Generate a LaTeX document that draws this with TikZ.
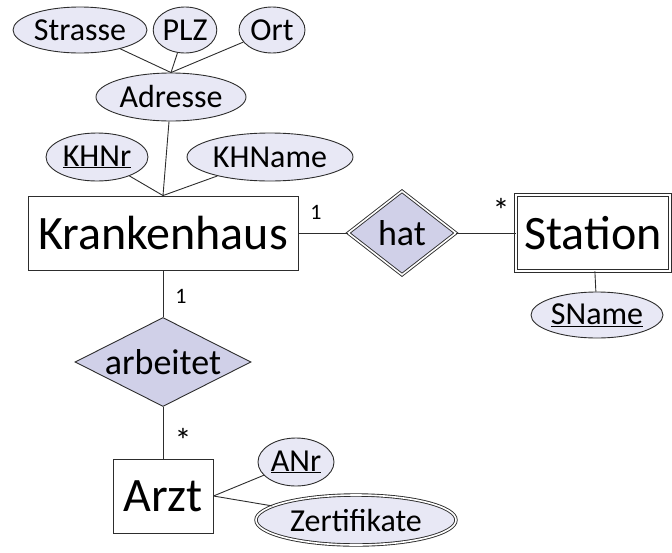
\documentclass[tikz,border=0pt]{standalone}
\usepackage{fontspec}
\setmainfont{Carlito}
\usetikzlibrary{shapes.geometric}
\definecolor{attrfill}{RGB}{232,232,245}
\definecolor{relfill}{RGB}{208,208,232}
\definecolor{linecol}{RGB}{45,45,45}

\tikzset{
  attr/.style={ellipse,draw=linecol,fill=attrfill,line width=0.9pt,inner sep=0pt,
    font=\fontsize{32}{32}\selectfont},
  rel/.style={diamond,draw=linecol,fill=relfill,line width=0.9pt,inner sep=0pt,
    font=\fontsize{36}{36}\selectfont},
  entity/.style={rectangle,draw=linecol,fill=white,line width=0.9pt,inner sep=0pt,
    font=\fontsize{48}{48}\selectfont},
  card/.style={font=\fontsize{22}{22}\selectfont,inner sep=0pt},
  twice/.style={double=white,double distance=1.6pt},
}

\begin{document}
\begin{tikzpicture}[x=1pt,y=-1pt,line width=0.9pt,draw=linecol]
      \useasboundingbox (0,0) rectangle (672,552);
      % entities
      \draw (163,233) node[entity,minimum width=270,minimum height=74] (krankenhaus) {Krankenhaus};
      \draw (593,233) node[entity,twice,minimum width=154,minimum height=76] (station) {Station};
      \draw (163,496) node[entity,minimum width=100,minimum height=74] (arzt) {Arzt};
      % relationships
      \draw (402,233) node[rel,twice,aspect=1.3,minimum width=108,minimum height=84] (hat) {hat};
      \draw (163,362) node[rel,aspect=2,minimum width=176,minimum height=89] (arbeitet) {arbeitet};
      % attributes
      \draw (80,30)   node[attr,minimum width=134,minimum height=46] (strasse) {Strasse};
      \draw (185,30)  node[attr,minimum width=60,minimum height=46] (plz) {PLZ};
      \draw (272,30)  node[attr,minimum width=66,minimum height=46] (ort) {Ort};
      \draw (171,97)  node[attr,minimum width=150,minimum height=48] (adresse) {Adresse};
      \draw (97,157)  node[attr,minimum width=102,minimum height=48] (khnr) {\underline{KHNr}};
      \draw (270,157) node[attr,minimum width=166,minimum height=48] (khname) {KHName};
      \draw (597,315) node[attr,minimum width=132,minimum height=46] (sname) {\underline{SName}};
      \draw (296,462) node[attr,minimum width=76,minimum height=48] (anr) {\underline{ANr}};
      \draw (356,520) node[attr,twice,minimum width=200,minimum height=50] (zertifikate) {Zertifikate};
      % cardinalities
      \draw (316,212) node[card] (c1) {1};
      \draw (501,210) node[card,font=\fontsize{34}{34}\selectfont] (c2) {*};
      \draw (181,296) node[card] (c3) {1};
      \draw (183,440) node[card,font=\fontsize{34}{34}\selectfont] (c4) {*};
      % connectors
      \draw (strasse) -- (adresse.north);
      \draw (plz) -- (adresse.north);
      \draw (ort) -- (adresse.north);
      \draw (adresse) -- (krankenhaus.north);
      \draw (khnr) -- (krankenhaus.north);
      \draw (khname) -- (krankenhaus.north);
      \draw (krankenhaus) -- (hat);
      \draw (hat) -- (station);
      \draw (station) -- (sname);
      \draw (krankenhaus) -- (arbeitet);
      \draw (arbeitet) -- (arzt);
      \draw (arzt.east) -- (anr);
      \draw (arzt.east) -- (zertifikate);
    \end{tikzpicture}
\end{document}
